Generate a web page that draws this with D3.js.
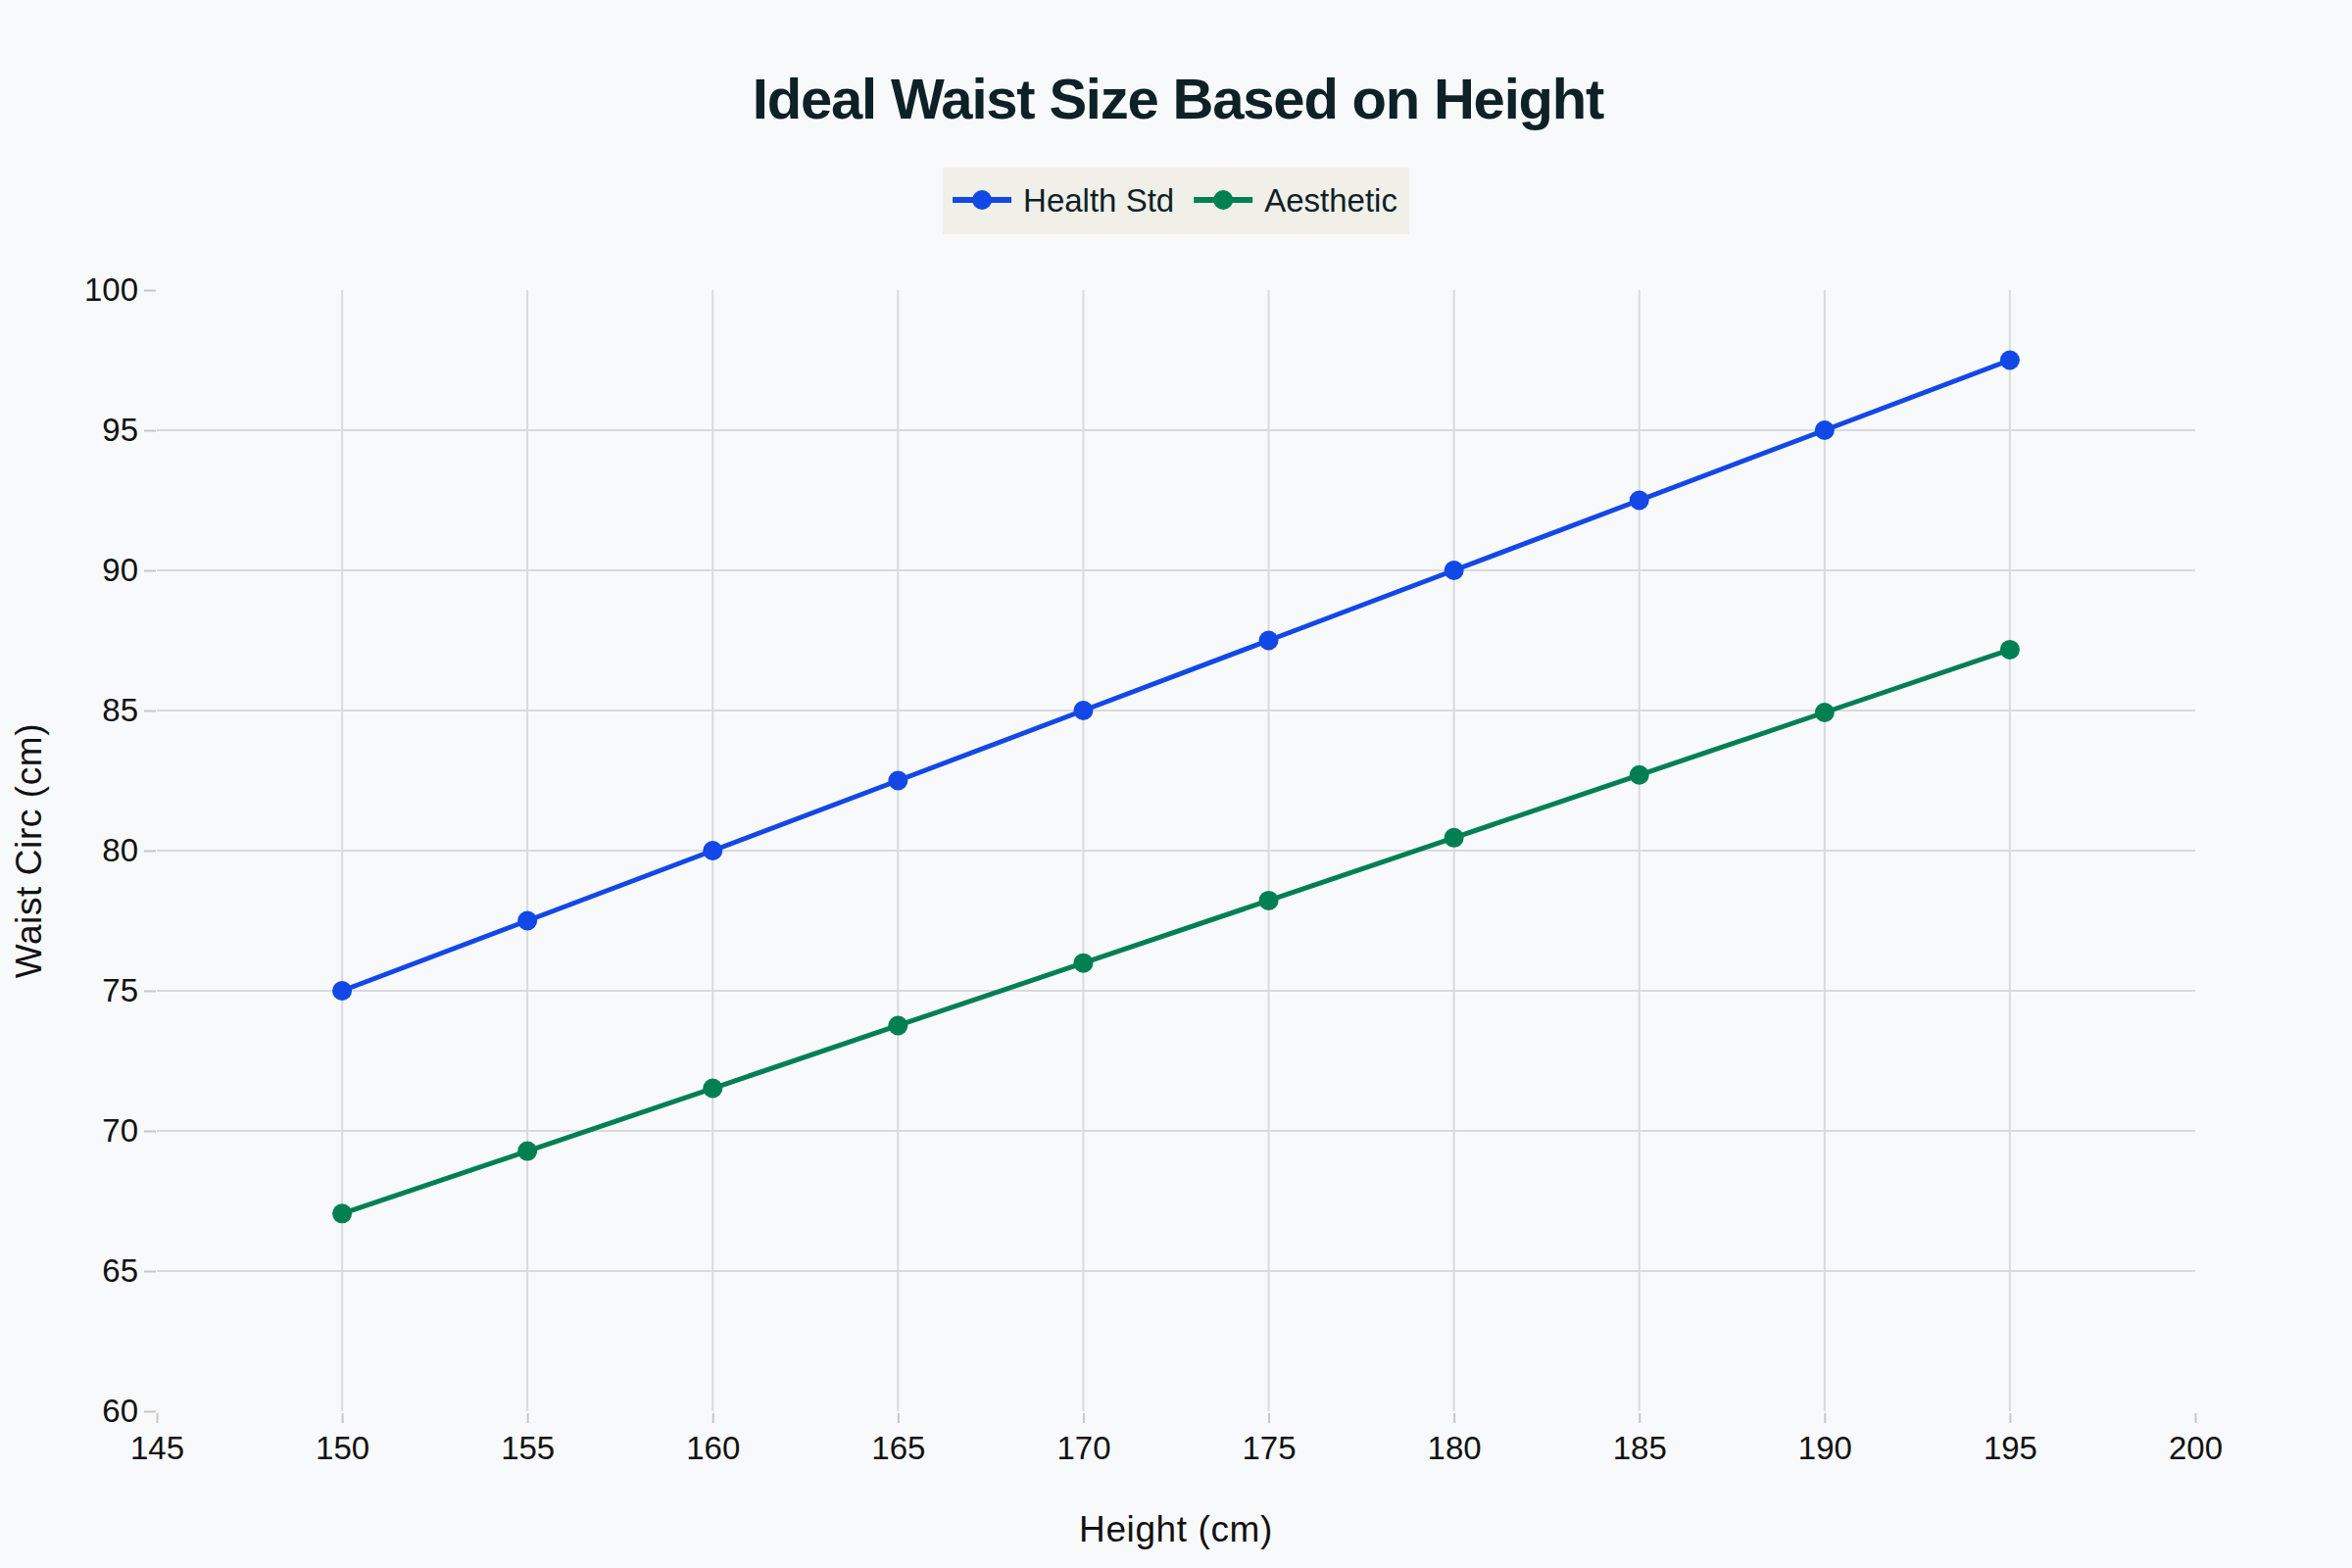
<!DOCTYPE html>
<html>
<head>
<meta charset="utf-8">
<script src="https://cdn.jsdelivr.net/npm/d3@7"></script>
<style>
  html, body { margin: 0; padding: 0; background: #F8F9FA; }
  svg { display: block; }
</style>
</head>
<body>
<svg id="chart" width="2400" height="1600"></svg>
<script>
// ---- data ----
const heights = [150, 155, 160, 165, 170, 175, 180, 185, 190, 195];
const healthStd = [75, 77.5, 80, 82.5, 85, 87.5, 90, 92.5, 95, 97.5];
const aesthetic = [67.05, 69.28, 71.52, 73.76, 75.99, 78.22, 80.46, 82.70, 84.93, 87.17];
const seriesNames = ["Health Std", "Aesthetic"];
const xTicks = [145, 150, 155, 160, 165, 170, 175, 180, 185, 190, 195, 200];
const yTicks = [60, 65, 70, 75, 80, 85, 90, 95, 100];
const titleText = "Ideal Waist Size Based on Height";
const xTitle = "Height (cm)";
const yTitle = "Waist Circ (cm)";

// ---- layout ----
const W = 2400, H = 1600;
const plotL = 160, plotR = 2240, plotT = 296, plotB = 1440;
const colors = ["#1248E6", "#008052"];
const font = "'Liberation Sans', Arial, Helvetica, sans-serif";

const svg = d3.select("#chart");
svg.append("rect").attr("width", W).attr("height", H).attr("fill", "#F8F9FA");

const x = d3.scaleLinear().domain([145, 200]).range([plotL, plotR]);
const y = d3.scaleLinear().domain([60, 100]).range([plotB, plotT]);

// grid
const grid = svg.append("g");
grid.append("g").selectAll("line").data(yTicks.filter(v => v !== 60 && v !== 100)).join("line")
  .attr("x1", plotL).attr("x2", plotR)
  .attr("y1", d => y(d)).attr("y2", d => y(d))
  .attr("stroke", "#DADADD").attr("stroke-width", 2);
grid.append("g").selectAll("line").data(xTicks.filter(v => v !== 145 && v !== 200)).join("line")
  .attr("y1", plotT).attr("y2", plotB)
  .attr("x1", d => x(d)).attr("x2", d => x(d))
  .attr("stroke", "#DADADD").attr("stroke-width", 2);

// x axis
const xAxis = svg.append("g").attr("transform", `translate(0,${plotB + 2})`)
  .call(d3.axisBottom(x).tickValues(xTicks).tickSize(10).tickPadding(14).tickFormat(d3.format("d")));
xAxis.select(".domain").remove();
xAxis.selectAll(".tick line").attr("stroke", "#CBC6C4").attr("stroke-width", 2);
xAxis.selectAll(".tick text").attr("font-family", font).attr("font-size", 33).attr("fill", "#111");

// y axis
const yAxis = svg.append("g").attr("transform", `translate(${plotL - 1},0)`)
  .call(d3.axisLeft(y).tickValues(yTicks).tickSize(12).tickPadding(6).tickFormat(d3.format("d")));
yAxis.select(".domain").remove();
yAxis.selectAll(".tick line").attr("stroke", "#CBC6C4").attr("stroke-width", 2);
yAxis.selectAll(".tick text").attr("font-family", font).attr("font-size", 33).attr("fill", "#111");

// lines
const allSeries = [healthStd, aesthetic];
const line = d3.line().x((d, i) => x(heights[i])).y(d => y(d));
allSeries.forEach((vals, si) => {
  svg.append("path").datum(vals)
    .attr("d", line).attr("fill", "none")
    .attr("stroke", colors[si]).attr("stroke-width", 5)
    .attr("stroke-linejoin", "round");
  svg.append("g").selectAll("circle").data(vals).join("circle")
    .attr("cx", (d, i) => x(heights[i])).attr("cy", d => y(d))
    .attr("r", 10).attr("fill", colors[si]);
});

// title
svg.append("text").attr("x", 1202).attr("y", 121)
  .attr("text-anchor", "middle").attr("font-family", font)
  .attr("font-weight", "bold").attr("font-size", 58).attr("letter-spacing", -1.2)
  .attr("fill", "#0D2126").text(titleText);

// axis titles
svg.append("text").attr("x", (plotL + plotR) / 2).attr("y", 1573)
  .attr("text-anchor", "middle").attr("font-family", font).attr("font-size", 37)
  .attr("letter-spacing", 0.6).attr("fill", "#111").text(xTitle);
svg.append("text").attr("transform", `translate(42,${(plotT + plotB) / 2}) rotate(-90)`)
  .attr("text-anchor", "middle").attr("font-family", font).attr("font-size", 37)
  .attr("letter-spacing", 0.6).attr("fill", "#111").text(yTitle);

// legend
const legend = svg.append("g");
const legBg = legend.append("rect").attr("fill", "#F1F0E8");
let cx = 0;
seriesNames.forEach((name, i) => {
  const g = legend.append("g").attr("transform", `translate(${cx},0)`);
  g.append("line").attr("x1", 0).attr("x2", 60).attr("y1", 0).attr("y2", 0)
    .attr("stroke", colors[i]).attr("stroke-width", 6);
  g.append("circle").attr("cx", 30).attr("cy", 0).attr("r", 10).attr("fill", colors[i]);
  const t = g.append("text").attr("x", 72).attr("y", 11.5)
    .attr("font-family", font).attr("font-size", 33).attr("fill", "#0D2126").text(name);
  const w = t.node().getComputedTextLength();
  cx += 72 + w + 20;
});
const totalW = cx - 20;
const legX0 = 1200 - (totalW + 22) / 2 + 10;
legend.attr("transform", `translate(${legX0},204)`);
legBg.attr("x", -10).attr("y", -33).attr("width", totalW + 22).attr("height", 68);
</script>
</body>
</html>
